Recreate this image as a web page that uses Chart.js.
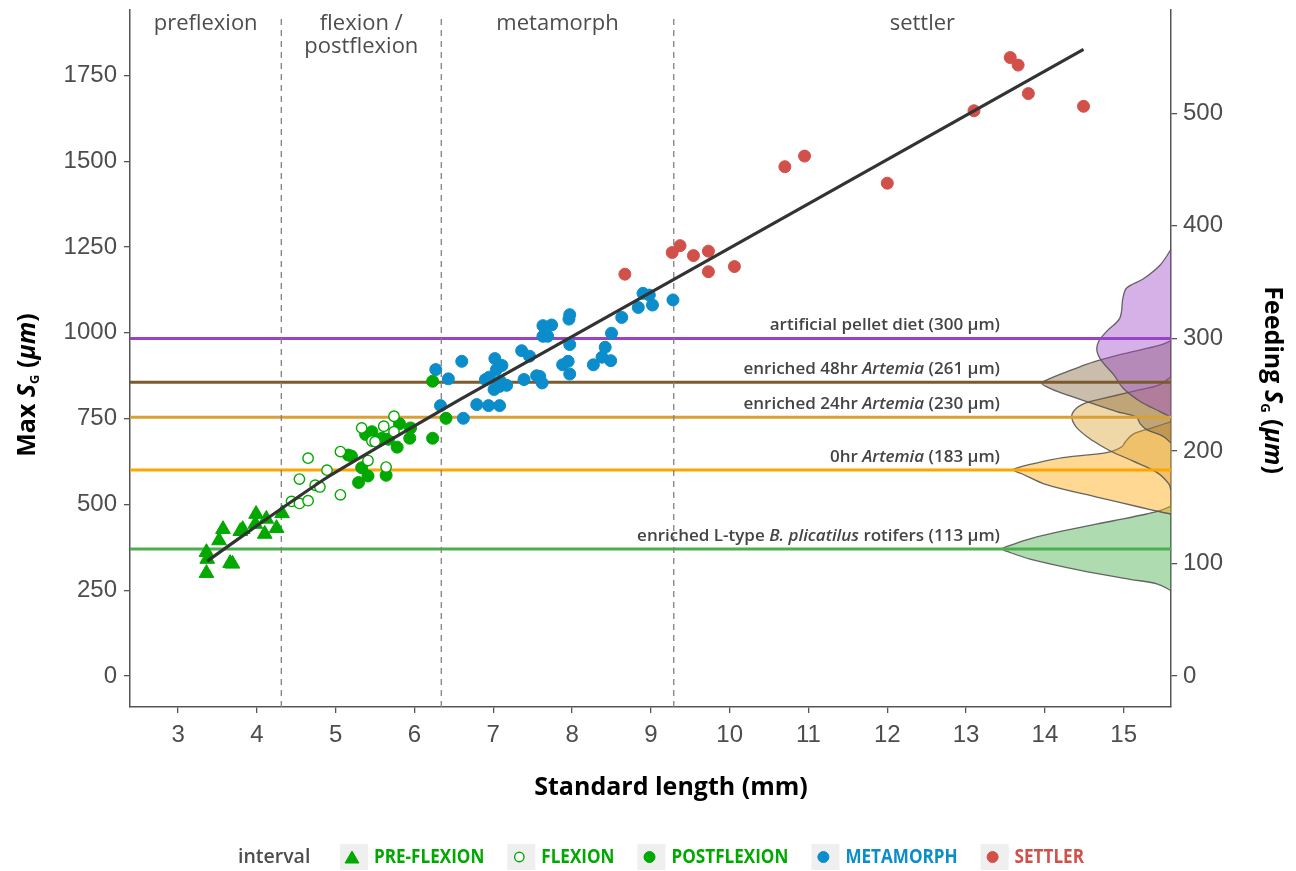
<!DOCTYPE html>
<html lang="en">
<head>
  <meta charset="UTF-8" />
  <title>Max SG vs standard length</title>
  <script src="https://cdn.jsdelivr.net/npm/chart.js"></script>
  <style>
    body { margin: 0; background: #fff; }
    canvas { display: block; }
  </style>
</head>
<body>
  <canvas id="chart" width="1296" height="871"></canvas>

  <script>
    // ---- data ----
    const xTicks = [3, 4, 5, 6, 7, 8, 9, 10, 11, 12, 13, 14, 15];
    const yTicks = [0, 250, 500, 750, 1000, 1250, 1500, 1750];
    const feedTicks = [0, 100, 200, 300, 400, 500];

    const stageBreaks = [4.31, 6.34, 9.29];
    const stageNames = [['preflexion'], ['flexion /', 'postflexion'], ['metamorph'], ['settler']];

    const preflexion = [[3.36,300],[3.36,361],[3.37,341],[3.52,395],[3.57,428],[3.66,329],[3.69,327],
      [3.79,422],[3.82,428],[3.99,472],[3.98,443],[4.12,458],[4.10,414],[4.25,431],[4.32,474]];
    const flexion = [[4.44,509],[4.54,503],[4.65,511],[4.54,574],[4.65,635],[4.74,556],[4.80,551],
      [4.89,600],[5.06,528],[5.06,654],[5.33,723],[5.41,628],[5.46,685],[5.50,683],[5.61,728],
      [5.64,609],[5.74,757],[5.74,712]];
    const postflexion = [[5.16,644],[5.20,641],[5.29,564],[5.33,607],[5.41,583],[5.38,704],[5.46,712],
      [5.59,693],[5.64,585],[5.67,690],[5.78,667],[5.81,735],[5.94,693],[5.95,723],[6.23,693],
      [6.40,751],[6.23,859]];
    const metamorph = [[6.27,893],[6.43,866],[6.33,788],[6.62,751],[6.60,917],[6.79,791],[6.94,788],
      [7.08,788],[6.90,864],[6.95,871],[7.02,925],[7.04,893],[7.11,905],[7.09,859],[7.01,835],
      [7.08,844],[7.17,847],[7.36,948],[7.46,932],[7.39,864],[7.55,875],[7.59,873],[7.62,854],
      [7.63,1021],[7.74,1023],[7.63,990],[7.69,990],[7.97,966],[7.88,907],[7.95,917],[7.97,880],
      [8.27,907],[8.38,929],[8.42,958],[8.49,919],[8.50,999],[8.63,1045],[8.84,1074],[8.90,1115],
      [8.98,1110],[9.02,1081],[9.28,1096],[7.96,1040],[7.97,1053]];
    const settler = [[8.67,1171],[9.27,1234],[9.37,1254],[9.54,1225],[9.73,1238],[9.73,1178],
      [10.06,1193],[10.70,1484],[10.95,1515],[12.00,1436],[13.10,1647],[13.56,1802],[13.66,1780],
      [13.79,1697],[14.49,1660]];

    const fitX = [3.37, 4.0, 4.5, 4.9, 5.5, 6.58, 14.49];
    const fitY = [335, 438, 518, 580, 662, 806, 1826];

    // feeding sizes (right axis) and their labels
    const feedSizes = [300, 261, 230, 183, 113];
    const feedLabels = [
      [['artificial pellet diet (300 µm)', 0]],
      [['enriched 48hr ', 0], ['Artemia', 1], [' (261 µm)', 0]],
      [['enriched 24hr ', 0], ['Artemia', 1], [' (230 µm)', 0]],
      [['0hr ', 0], ['Artemia', 1], [' (183 µm)', 0]],
      [['enriched L-type ', 0], ['B. plicatilus', 1], [' rotifers (113 µm)', 0]]
    ];
    // density ridges: [feeding size, density]
    const pelletDens = [[379,0],[365,0.14],[353,0.35],[345,0.56],[336,0.61],[318,0.65],[306,0.82],
      [297,0.92],[289,0.94],[280,0.88],[268,0.73],[256,0.61],[244,0.39],[235,0.14],[230,0]];
    const art48Dens = [[298,0],[294,0.14],[287,0.56],[280,0.94],[275,1.15],[268,1.41],[263,1.58],
      [260,1.64],[256,1.55],[252,1.41],[242,0.99],[235,0.69],[230,0.44],[224,0.39],[219,0.31],
      [213,0.1],[207,0]];
    const art24Dens = [[266,0],[259,0.14],[253,0.48],[246,0.9],[243,1.07],[238,1.2],[231,1.26],
      [221,1.2],[209,0.99],[200,0.77],[191,0.48],[181,0.18],[171,0.03],[165,0]];
    const art0Dens = [[226,0],[221,0.22],[215,0.48],[208,0.58],[204,0.62],[200,0.73],[198,0.85],
      [194,1.37],[188,1.79],[185,1.95],[183,2.0],[180,1.9],[170,1.58],[159,0.94],[150,0.39],
      [146,0.14],[144,0]];
    const rotiferDens = [[151,0],[147,0.14],[144,0.31],[138,0.73],[129,1.37],[122,1.79],[116,2.05],
      [113,2.14],[110,2.05],[104,1.79],[94,1.15],[86,0.52],[82,0.18],[76,0]];

    // ---- styling / layout ----
    const FF = '"Open Sans", sans-serif';
    const green = '#00a800', blue = '#0b8ccb', red = '#d1514a';
    const feedColors = ['#9a42c8', '#7b5b2e', '#d9a033', '#ffa500', '#4caf4f'];
    const ridgeFills = ['rgba(155,69,201,0.42)', 'rgba(122,90,48,0.40)', 'rgba(216,160,48,0.42)',
      'rgba(255,165,0,0.42)', 'rgba(76,175,80,0.45)'];
    const ridgeData = [pelletDens, art48Dens, art24Dens, art0Dens, rotiferDens];

    const ratio = 3.2795;          // left-axis µm per right-axis µm
    const xMin = 2.39, xMax = 15.6;
    const yMin = -90, yMax = 1942;

    const toXY = arr => arr.map(([x, y]) => ({ x, y }));

    const ridgeSets = ridgeData.map((d, i) => ({
      type: 'line', yAxisID: 'y2',
      data: d.map(([f, w]) => ({ x: xMax - w, y: f })),
      borderColor: 'rgba(85,85,85,0.9)', borderWidth: 1.3,
      backgroundColor: ridgeFills[i], fill: 'shape',
      pointRadius: 0, tension: 0.35, order: 5 + i
    }));

    const hLineSets = feedSizes.map((f, i) => ({
      type: 'line', yAxisID: 'y2',
      data: [{ x: xMin, y: f }, { x: xMax, y: f }],
      borderColor: feedColors[i], borderWidth: 3, pointRadius: 0, order: 4
    }));

    const stageSets = stageBreaks.map(b => ({
      type: 'line', yAxisID: 'y',
      data: [{ x: b, y: yMin }, { x: b, y: 1928 }],
      borderColor: '#808080', borderWidth: 1.3, borderDash: [6, 5], pointRadius: 0, order: 3
    }));

    const pointSets = [
      { label: 'PRE-FLEXION', data: toXY(preflexion), pointStyle: 'triangle', pointRadius: 8.5,
        backgroundColor: green, borderColor: green, borderWidth: 1 },
      { label: 'FLEXION', data: toXY(flexion), pointStyle: 'circle', pointRadius: 5.2,
        backgroundColor: '#fff', borderColor: green, borderWidth: 1.4 },
      { label: 'POSTFLEXION', data: toXY(postflexion), pointStyle: 'circle', pointRadius: 6,
        backgroundColor: green, borderColor: green, borderWidth: 1 },
      { label: 'METAMORPH', data: toXY(metamorph), pointStyle: 'circle', pointRadius: 6,
        backgroundColor: blue, borderColor: blue, borderWidth: 1 },
      { label: 'SETTLER', data: toXY(settler), pointStyle: 'circle', pointRadius: 6,
        backgroundColor: red, borderColor: red, borderWidth: 1 }
    ].map(d => Object.assign({ type: 'scatter', yAxisID: 'y', order: 1 }, d));

    const fitSet = {
      type: 'line', yAxisID: 'y',
      data: fitX.map((x, i) => ({ x, y: fitY[i] })),
      borderColor: '#333', borderWidth: 3.2, pointRadius: 0, tension: 0.2, order: 0
    };

    function drawRich(ctx, parts, x, y, align) {
      let w = 0;
      parts.forEach(p => { ctx.font = p.font; w += ctx.measureText(p.t).width; });
      let cx = align === 'right' ? x - w : align === 'center' ? x - w / 2 : x;
      ctx.textAlign = 'left';
      parts.forEach(p => {
        ctx.font = p.font;
        ctx.fillText(p.t, cx, y + (p.dy || 0));
        cx += ctx.measureText(p.t).width;
      });
    }

    const extras = {
      id: 'extras',
      afterDatasetsDraw(chart) {
        const ctx = chart.ctx;
        const xs = chart.scales.x, ys2 = chart.scales.y2;
        ctx.save();

        // stage names at the top
        const bounds = [xMin, ...stageBreaks, xMax];
        ctx.fillStyle = '#4d4d4d';
        ctx.font = `22px ${FF}`;
        ctx.textAlign = 'center';
        ctx.textBaseline = 'alphabetic';
        stageNames.forEach((lines, i) => {
          const cx = xs.getPixelForValue((bounds[i] + bounds[i + 1]) / 2);
          lines.forEach((t, j) => ctx.fillText(t, cx, 30 + j * 23));
        });

        // feeding-size labels
        ctx.fillStyle = '#444';
        const lx = xs.getPixelForValue(13.43);
        feedLabels.forEach((segs, i) => {
          const py = ys2.getPixelForValue(feedSizes[i]) - 8;
          const parts = segs.map(([t, it]) => ({ t, font: `${it ? 'italic ' : ''}600 17px ${FF}` }));
          drawRich(ctx, parts, lx, py, 'right');
        });

        // axis titles
        ctx.fillStyle = '#000';
        ctx.textBaseline = 'middle';
        ctx.font = `bold 25px ${FF}`;
        ctx.textAlign = 'center';
        ctx.fillText('Standard length (mm)', 671, 788);

        const titleParts = first => [
          { t: first, font: `bold 25px ${FF}` },
          { t: 'S', font: `italic bold 25px ${FF}` },
          { t: 'G', font: `bold 13px ${FF}`, dy: 7 },
          { t: ' (', font: `bold 25px ${FF}` },
          { t: 'µm', font: `italic bold 25px ${FF}` },
          { t: ')', font: `bold 25px ${FF}` }
        ];
        ctx.save();
        ctx.translate(28, 385);
        ctx.rotate(-Math.PI / 2);
        drawRich(ctx, titleParts('Max '), 0, 0, 'center');
        ctx.restore();
        ctx.save();
        ctx.translate(1272, 380);
        ctx.rotate(Math.PI / 2);
        drawRich(ctx, titleParts('Feeding '), 0, 0, 'center');
        ctx.restore();

        // legend (labels slightly condensed, like the original's narrow face)
        const ly = 857;
        const keyFont = `bold 19px ${FF}`;
        let cx = 238;
        ctx.textAlign = 'left';
        ctx.fillStyle = '#4d4d4d';
        ctx.font = `600 19.5px ${FF}`;
        ctx.fillText('interval', cx, ly);
        cx = 340;
        pointSets.forEach(d => {
          ctx.fillStyle = '#efefef';
          ctx.fillRect(cx, ly - 13, 28, 26);
          ctx.fillStyle = d.backgroundColor;
          ctx.strokeStyle = d.borderColor;
          ctx.lineWidth = d.borderWidth;
          Chart.helpers.drawPoint(ctx, {
            pointStyle: d.pointStyle, radius: d.pointStyle === 'triangle' ? 8 : d.pointRadius - 0.5,
            borderWidth: d.borderWidth, rotation: 0
          }, cx + 12, ly + (d.pointStyle === 'triangle' ? 2 : 0));
          cx += 34;
          ctx.font = keyFont;
          ctx.fillStyle = d.borderColor;
          const w = ctx.measureText(d.label).width * 0.9;
          ctx.fillText(d.label, cx, ly + 1, w);
          cx += w + 23;
        });
        ctx.restore();
      }
    };

    const axisCommon = {
      grid: { drawOnChartArea: false, drawTicks: true, tickLength: 6, color: '#555', lineWidth: 1.3 },
      border: { display: true, color: '#555', width: 1.5 }
    };

    new Chart(document.getElementById('chart'), {
      type: 'scatter',
      data: { datasets: [fitSet, ...pointSets, ...stageSets, ...hLineSets, ...ridgeSets] },
      options: {
        responsive: false,
        animation: false,
        events: [],
        layout: { padding: { top: 7, left: 0, right: 0, bottom: 0 } },
        plugins: { legend: { display: false }, tooltip: { enabled: false } },
        scales: {
          x: Object.assign({
            type: 'linear', min: xMin, max: xMax,
            afterBuildTicks: s => { s.ticks = xTicks.map(v => ({ value: v })); },
            afterFit: s => { s.height = 871 - 707; s.paddingLeft = 0; s.paddingRight = 0; },
            ticks: { font: { size: 24 }, color: '#4d4d4d', padding: 8, autoSkip: false, maxRotation: 0,
              callback: v => String(v) }
          }, axisCommon),
          y: Object.assign({
            type: 'linear', position: 'left', min: yMin, max: yMax,
            afterBuildTicks: s => { s.ticks = yTicks.map(v => ({ value: v })); },
            afterFit: s => { s.width = 130; s.paddingTop = 0; s.paddingBottom = 0; },
            ticks: { font: { size: 24 }, color: '#4d4d4d', padding: 7, callback: v => String(v) }
          }, axisCommon),
          y2: Object.assign({
            type: 'linear', position: 'right', min: yMin / ratio, max: yMax / ratio,
            afterBuildTicks: s => { s.ticks = feedTicks.map(v => ({ value: v })); },
            afterFit: s => { s.width = 1296 - 1171; s.paddingTop = 0; s.paddingBottom = 0; },
            ticks: { font: { size: 24 }, color: '#4d4d4d', padding: 6, callback: v => String(v) }
          }, axisCommon)
        }
      },
      plugins: [extras]
    });
  </script>
</body>
</html>
